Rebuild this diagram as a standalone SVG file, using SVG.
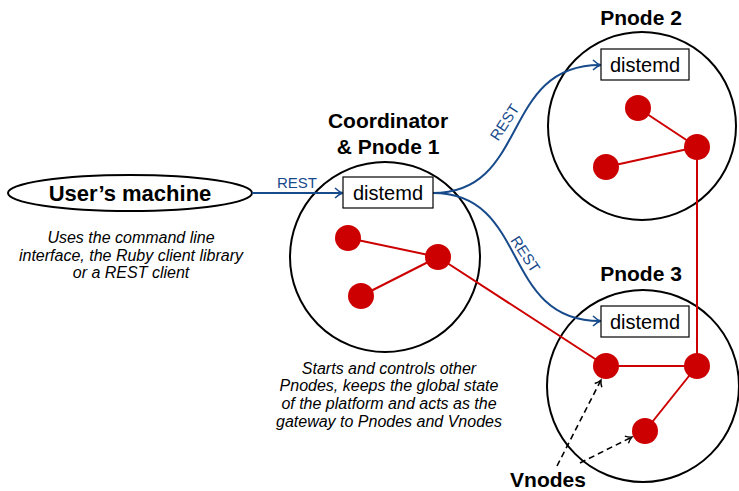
<svg xmlns="http://www.w3.org/2000/svg" width="739" height="491" viewBox="0 0 739 491">
<style>
.title{font-family:"Liberation Sans",Arial,sans-serif;font-weight:bold;font-size:21px;text-anchor:middle;fill:#000}
.note{font-family:"Liberation Sans",Arial,sans-serif;font-style:italic;font-size:16px;text-anchor:middle;fill:#000}
.box{fill:#fff;stroke:#000;stroke-width:1.2}
.boxt{font-family:"Liberation Sans",Arial,sans-serif;font-size:20px;text-anchor:middle;fill:#000}
.pn{fill:none;stroke:#000;stroke-width:2}
.vn{fill:#cc0000}
.red{stroke:#cc0000;stroke-width:2;fill:none}
.blue{stroke:#174a8b;stroke-width:2;fill:none;marker-end:url(#ab)}
.rest{font-family:"Liberation Sans",Arial,sans-serif;font-size:15px;text-anchor:middle;fill:#174a8b}
.dash{stroke:#000;stroke-width:1.6;fill:none;stroke-dasharray:6,4;marker-end:url(#ak)}
</style>
<defs>
<marker id="ab" markerWidth="12" markerHeight="12" refX="9" refY="6" orient="auto" markerUnits="userSpaceOnUse">
<path d="M2,1 Q6,5 10,6 Q6,7 2,11" fill="none" stroke="#174a8b" stroke-width="1.5"/>
</marker>
<marker id="ak" markerWidth="12" markerHeight="12" refX="9" refY="6" orient="auto" markerUnits="userSpaceOnUse">
<path d="M3,2 Q6,5 9,6 Q6,7 3,10" fill="none" stroke="#000" stroke-width="1.4"/>
</marker>
</defs>

<g id="users-machine">
<ellipse cx="130" cy="193" rx="122" ry="18" class="pn"/>
<text x="130" y="201" class="title" style="font-size:22px">User’s machine</text>
<text x="131" y="243" class="note">Uses the command line</text>
<text x="131" y="261" class="note">interface, the Ruby client library</text>
<text x="131" y="278" class="note">or a REST client</text>
</g>

<g id="coordinator">
<circle cx="385" cy="257" r="95" class="pn"/>
<text x="388" y="128" class="title">Coordinator</text>
<text x="388" y="154" class="title">&amp; Pnode 1</text>
<text x="389" y="374" class="note">Starts and controls other</text>
<text x="389" y="391" class="note">Pnodes, keeps the global state</text>
<text x="389" y="409" class="note">of the platform and acts as the</text>
<text x="389" y="427" class="note">gateway to Pnodes and Vnodes</text>
</g>

<g id="pnode2">
<circle cx="642" cy="126" r="94" class="pn"/>
<text x="641" y="25" class="title">Pnode 2</text>
</g>

<g id="pnode3">
<circle cx="643" cy="386" r="96" class="pn"/>
<text x="641" y="281" class="title">Pnode 3</text>
</g>

<g id="connectors">
<line x1="348" y1="238" x2="438" y2="257" class="red"/>
<line x1="361" y1="296" x2="438" y2="257" class="red"/>
<line x1="438" y1="257" x2="606" y2="366" class="red"/>
<line x1="638" y1="108" x2="697" y2="147" class="red"/>
<line x1="606" y1="167" x2="697" y2="147" class="red"/>
<line x1="697" y1="147" x2="697" y2="366" class="red"/>
<line x1="606" y1="366" x2="697" y2="366" class="red"/>
<line x1="697" y1="366" x2="645" y2="431" class="red"/>

<path d="M252,193 L342,193" class="blue"/>
<text x="297" y="188" class="rest">REST</text>
<path d="M433,193 C530,193 500,65 600,65" class="blue"/>
<text x="0" y="0" class="rest" transform="translate(509,125) rotate(-57)">REST</text>
<path d="M433,193 C530,193 500,321 600,321" class="blue"/>
<text x="0" y="0" class="rest" transform="translate(521,257) rotate(57)">REST</text>

<path d="M557,466 L601,380" class="dash"/>
<path d="M580,463 L632,437" class="dash"/>
</g>

<g id="vnodes">
<circle cx="348" cy="238" r="13" class="vn"/>
<circle cx="438" cy="257" r="13" class="vn"/>
<circle cx="361" cy="296" r="13" class="vn"/>
<circle cx="638" cy="108" r="13" class="vn"/>
<circle cx="697" cy="147" r="13" class="vn"/>
<circle cx="606" cy="167" r="13" class="vn"/>
<circle cx="606" cy="366" r="13" class="vn"/>
<circle cx="697" cy="366" r="13" class="vn"/>
<circle cx="645" cy="431" r="13" class="vn"/>
<text x="548" y="487" class="title">Vnodes</text>
</g>

<g id="distemd-1">
<rect x="343" y="177" width="90" height="31" class="box"/>
<text x="388" y="200" class="boxt">distemd</text>
</g>
<g id="distemd-2">
<rect x="601" y="49" width="88" height="31" class="box"/>
<text x="645" y="72" class="boxt">distemd</text>
</g>
<g id="distemd-3">
<rect x="601" y="306" width="88" height="31" class="box"/>
<text x="645" y="329" class="boxt">distemd</text>
</g>
</svg>
